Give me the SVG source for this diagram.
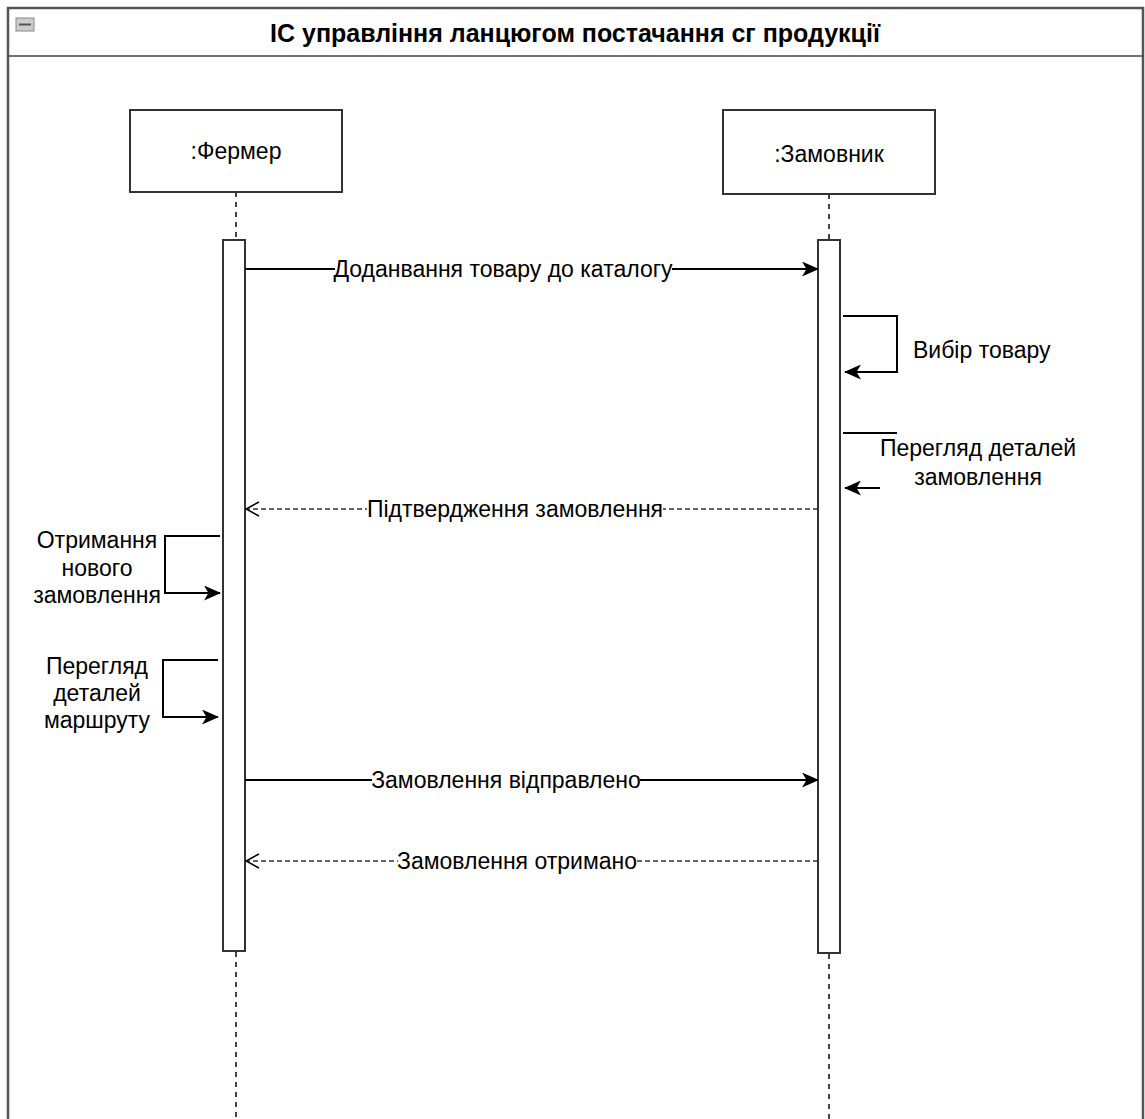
<svg xmlns="http://www.w3.org/2000/svg" width="1145" height="1119" viewBox="0 0 1145 1119">
<style>
.t{font-family:"Liberation Sans",Arial,sans-serif;font-size:23px;fill:#000}
.c{text-anchor:middle}
.ln{stroke:#000;stroke-width:2;fill:none}
.dash{stroke:#333;stroke-width:1.5;fill:none;stroke-dasharray:5 3}
.life{stroke:#444;stroke-width:2;fill:none;stroke-dasharray:5 5}
.box{fill:#fff;stroke:#333;stroke-width:2}
.bg{fill:#fff}
</style>
<defs>
<marker id="fill" viewBox="0 0 17 15" refX="16" refY="7.5" markerWidth="17" markerHeight="15" markerUnits="userSpaceOnUse" orient="auto"><path d="M0,0 L17,7.5 L0,15 L4.5,7.5 Z" fill="#000"/></marker>
<marker id="open" viewBox="0 0 15 16" refX="14" refY="8" markerWidth="15" markerHeight="16" markerUnits="userSpaceOnUse" orient="auto"><path d="M1,1 L14,8 L1,15" fill="none" stroke="#000" stroke-width="1.5"/></marker>
</defs>
<rect width="1145" height="1119" fill="#fff"/>
<g id="frame">
<rect x="8" y="8" width="1135" height="1120" fill="#fff" stroke="#555" stroke-width="2.5"/>
<line x1="8" y1="56" x2="1143" y2="56" stroke="#444" stroke-width="1.5"/>
<rect x="16" y="18" width="18" height="13" fill="#ccc" stroke="#888" stroke-width="1"/>
<line x1="19" y1="24.5" x2="31" y2="24.5" stroke="#555" stroke-width="2"/>
<text class="t c" x="575" y="42" style="font-weight:bold;font-size:25px">ІС управління ланцюгом постачання сг продукції</text>
</g>
<g id="farmer">
<line class="life" x1="236" y1="192" x2="236" y2="1119"/>
<rect class="box" x="130" y="110" width="212" height="82"/>
<text class="t c" x="236" y="159">:Фермер</text>
<rect class="box" x="223" y="240" width="22" height="711"/>
</g>
<g id="customer">
<line class="life" x1="829" y1="194" x2="829" y2="1119"/>
<rect class="box" x="723" y="110" width="212" height="84"/>
<text class="t c" x="829" y="162">:Замовник</text>
<rect class="box" x="818" y="240" width="22" height="713"/>
</g>
<g id="connectors">
<line class="ln" x1="245" y1="269" x2="818" y2="269" marker-end="url(#fill)"/>
<rect class="bg" x="335" y="257" width="337" height="24"/>
<text class="t c" x="503" y="277">Доданвання товару до каталогу</text>

<polyline class="ln" points="843,316 897,316 897,372 845,372" marker-end="url(#fill)"/>
<text class="t" x="913" y="358">Вибір товару</text>

<line class="ln" x1="843" y1="433" x2="897" y2="433"/>
<line class="ln" x1="880" y1="488" x2="845" y2="488" marker-end="url(#fill)"/>
<text class="t c" x="978" y="456">Перегляд деталей</text>
<text class="t c" x="978" y="485">замовлення</text>

<line class="dash" x1="818" y1="509" x2="246" y2="509" marker-end="url(#open)"/>
<rect class="bg" x="367" y="497" width="296" height="24"/>
<text class="t c" x="515" y="517">Підтвердження замовлення</text>

<polyline class="ln" points="220,536 165,536 165,593 220,593" marker-end="url(#fill)"/>
<text class="t c" x="97" y="548">Отримання</text>
<text class="t c" x="97" y="576">нового</text>
<text class="t c" x="97" y="603">замовлення</text>

<polyline class="ln" points="218,660 163,660 163,717 218,717" marker-end="url(#fill)"/>
<text class="t c" x="97" y="674">Перегляд</text>
<text class="t c" x="97" y="701">деталей</text>
<text class="t c" x="97" y="728">маршруту</text>

<line class="ln" x1="245" y1="780" x2="818" y2="780" marker-end="url(#fill)"/>
<rect class="bg" x="372" y="768" width="268" height="24"/>
<text class="t c" x="506" y="788">Замовлення відправлено</text>

<line class="dash" x1="818" y1="861" x2="246" y2="861" marker-end="url(#open)"/>
<rect class="bg" x="398" y="849" width="238" height="24"/>
<text class="t c" x="517" y="869">Замовлення отримано</text>
</g>
</svg>
